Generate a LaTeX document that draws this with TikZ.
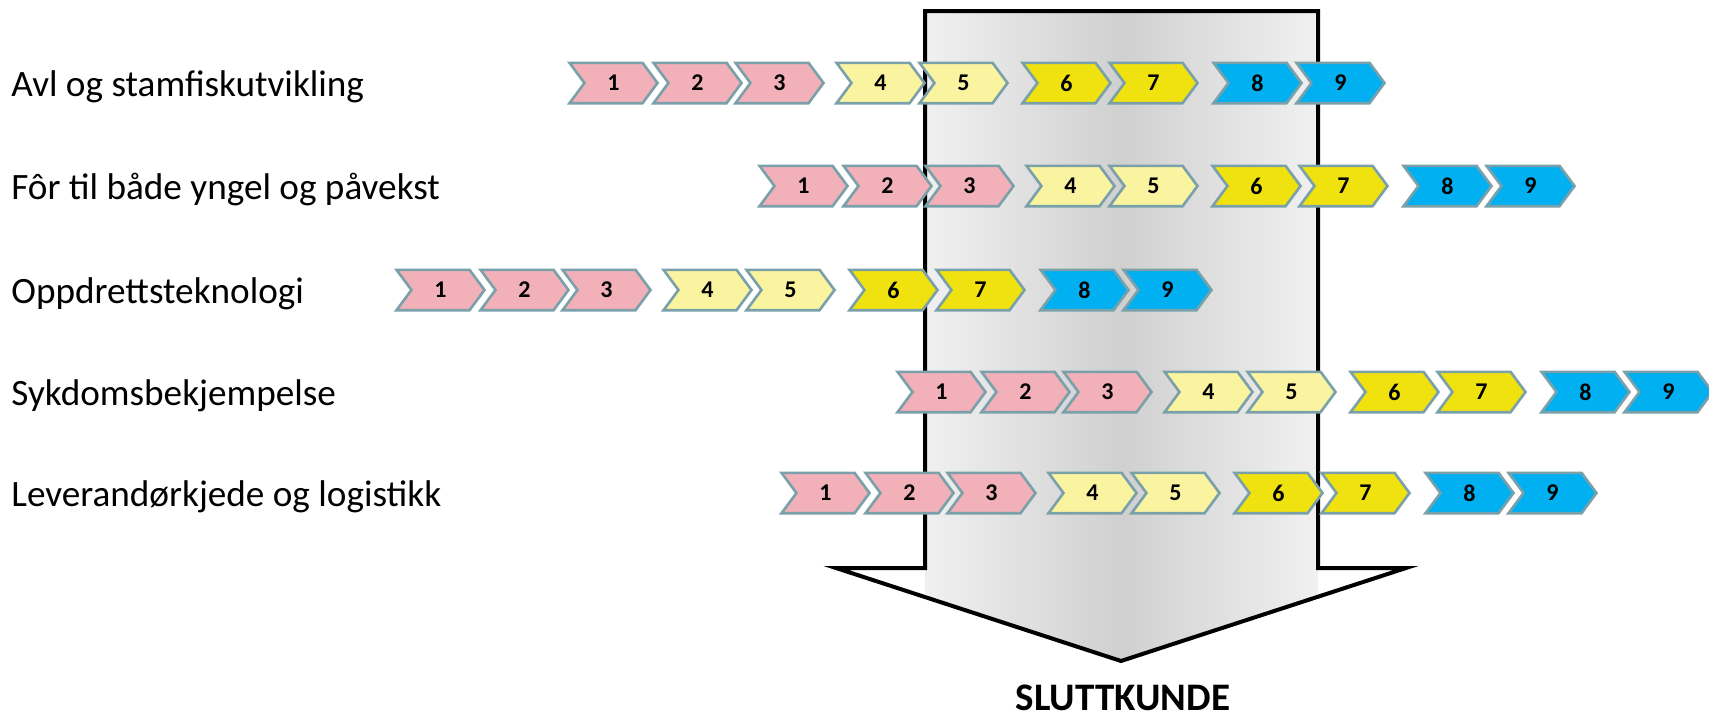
\documentclass[tikz,border=0pt]{standalone}
\usepackage{fontspec}
\setmainfont{Carlito}
\usetikzlibrary{shapes.symbols}

\definecolor{chevpink}{RGB}{242,176,184}
\definecolor{chevlight}{RGB}{250,244,160}
\definecolor{chevyellow}{RGB}{240,226,15}
\definecolor{chevblue}{RGB}{0,176,240}
\definecolor{chevedge}{RGB}{122,160,170}
\definecolor{arrowgray}{RGB}{208,208,208}

\begin{document}
\begin{tikzpicture}[
	x=0.5pt, y=-0.5pt,
	mychevron/.style={
		signal,
		signal from=west,
		signal to=east,
		signal pointer angle=107,
		draw=chevedge,
		line width=1.3pt,
		inner sep=0pt,
		minimum width=44pt,
		minimum height=20.2pt,
		font=\fontsize{12}{12}\selectfont\bfseries},
	mylabel/.style={
		anchor=base west,
		inner sep=0pt,
		font=\fontsize{18.6}{20}\selectfont},
	myarrow/.style={
		draw=black,
		line width=2pt,
		fill=white,
		path picture={\shade[left color=white,right color=white,middle color=arrowgray] (925,0) rectangle (1318,718);}}
	]
	\useasboundingbox (0,0) rectangle (1709,718);
	
	\draw[myarrow] (925,11) -- (1318,11) -- (1318,568) -- (1406,568) -- (1121,661) -- (836,568) -- (925,568) -- cycle;
	\node[anchor=base, inner sep=0pt, font=\fontsize{19.5}{20}\selectfont\bfseries] (kunde) at (1123,710) {SLUTTKUNDE};
	
	\foreach \row/\y/\sx/\txt in {% row/centre/start/text
		1/83/568/Avl og stamfiskutvikling,
		2/186/758/Fôr til både yngel og påvekst,
		3/290/395/Oppdrettsteknologi,
		4/392/896/Sykdomsbekjempelse,
		5/493/780/Leverandørkjede og logistikk}
	{
		\node[mylabel] (l\row) at (11,\y+13) {\txt};
		\foreach \k/\dx/\col in {% step/offset/colour
			1/0/chevpink, 2/84/chevpink, 3/166/chevpink,
			4/267/chevlight, 5/350/chevlight,
			6/453/chevyellow, 7/540/chevyellow,
			8/644/chevblue, 9/727/chevblue}
		\node[mychevron,fill=\col] (c\row-\k) at (\sx+\dx+45.5,\y) {\k};
	}
	
\end{tikzpicture}
\end{document}
